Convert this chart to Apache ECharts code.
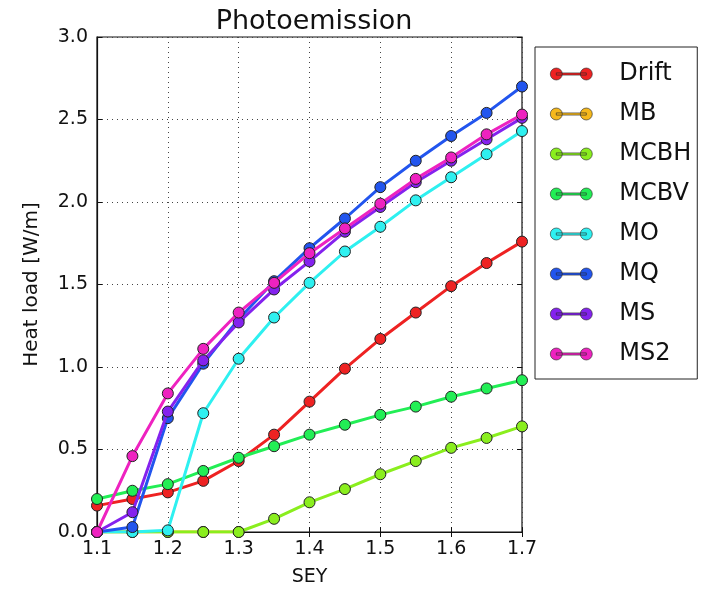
<!DOCTYPE html>
<html>
<head>
<meta charset="utf-8">
<script src="https://cdn.jsdelivr.net/npm/echarts@6/dist/echarts.min.js"></script>
<style>
	html, body { margin: 0; padding: 0; background: #fff; }
	#chart { width: 710px; height: 596px; }
</style>
</head>
<body>
<div id="chart"></div>
<script>
var sey = [1.1, 1.15, 1.2, 1.25, 1.3, 1.35, 1.4, 1.45, 1.5, 1.55, 1.6, 1.65, 1.7];
var names = ['Drift', 'MB', 'MCBH', 'MCBV', 'MO', 'MQ', 'MS', 'MS2'];
var colors = ['#ee2222', '#f5b81c', '#8aee1e', '#22ee55', '#2ef0f0', '#2255ee', '#8422ee', '#ee22c0'];
var drift = [0.16, 0.20, 0.24, 0.31, 0.43, 0.59, 0.79, 0.99, 1.17, 1.33, 1.49, 1.63, 1.76];
var mb = [0, 0, 0, 0, 0, null, null, null, null, null, null, null, null];
var mcbh = [0, 0, 0, 0, 0, 0.08, 0.18, 0.26, 0.35, 0.43, 0.51, 0.57, 0.64];
var mcbv = [0.20, 0.25, 0.29, 0.37, 0.45, 0.52, 0.59, 0.65, 0.71, 0.76, 0.82, 0.87, 0.92];
var mo = [0, 0, 0.01, 0.72, 1.05, 1.30, 1.51, 1.70, 1.85, 2.01, 2.15, 2.29, 2.43];
var mq = [0, 0.03, 0.69, 1.02, 1.29, 1.52, 1.72, 1.90, 2.09, 2.25, 2.40, 2.54, 2.70];
var ms = [0, 0.12, 0.73, 1.04, 1.27, 1.47, 1.64, 1.82, 1.97, 2.12, 2.25, 2.38, 2.51];
var ms2 = [0, 0.46, 0.84, 1.11, 1.33, 1.51, 1.69, 1.84, 1.99, 2.14, 2.27, 2.41, 2.53];
var values = [drift, mb, mcbh, mcbv, mo, mq, ms, ms2];

var font = 'DejaVu Sans';
// legend marker: line with a circle at each end
var legendIcon = 'path://M6,0 A6,6 0 1,1 6,12 A6,6 0 1,1 6,0 Z M36,0 A6,6 0 1,1 36,12 A6,6 0 1,1 36,0 Z M6,4.9 L36,4.9 L36,7.1 L6,7.1 Z';

function pairs(arr) {
	var out = [];
	for (var i = 0; i < sey.length; i++) {
		out.push([sey[i], arr[i]]);
	}
	return out;
}

var series = [];
for (var k = 0; k < names.length; k++) {
	series.push({
		name: names[k],
		type: 'line',
		xAxisIndex: 0,
		yAxisIndex: 0,
		data: pairs(values[k]),
		symbol: 'circle',
		symbolSize: 11,
		showAllSymbol: true,
		connectNulls: false,
		lineStyle: {color: colors[k], width: 3},
		itemStyle: {color: colors[k], borderColor: '#222', borderWidth: 1},
		emphasis: {disabled: true},
		z: 2 + k
	});
}

var myChart = echarts.init(document.getElementById('chart'));
var gridLine = {show: true, lineStyle: {color: '#444', width: 1, type: [1, 4]}};
var option = {
	animation: false,
	textStyle: {fontFamily: font},
	title: {
		text: 'Photoemission',
		left: 309,
		top: 3,
		textAlign: 'center',
		textStyle: {fontFamily: font, fontSize: 27, fontWeight: 'normal', color: '#111'}
	},
	grid: {
		left: 97, right: 188, top: 37, bottom: 64,
		show: true, borderColor: '#111', borderWidth: 1.2, backgroundColor: '#fff'
	},
	legend: {
		orient: 'vertical',
		left: 535,
		top: 47,
		padding: [15, 6, 13, 15],
		itemGap: 16,
		itemWidth: 42,
		itemHeight: 12,
		icon: legendIcon,
		itemStyle: {borderWidth: 0.6},
		backgroundColor: '#fff',
		borderColor: '#222',
		borderWidth: 1,
		borderRadius: 0,
		data: names,
		textStyle: {fontFamily: font, fontSize: 24, color: '#111', lineHeight: 20, padding: [0, 0, 0, 22]}
	},
	xAxis: [
		{
			type: 'value',
			min: 1.1, max: 1.7, interval: 0.1,
			name: 'SEY',
			nameLocation: 'middle',
			nameGap: 36,
			nameTextStyle: {fontFamily: font, fontSize: 19, color: '#111'},
			axisLine: {show: true, onZero: false, lineStyle: {color: '#111', width: 1.2}},
			axisTick: {show: true, inside: true, length: 5, lineStyle: {color: '#111'}},
			axisLabel: {fontFamily: font, fontSize: 19, color: '#111', margin: 8,
				formatter: function (v) { return v.toFixed(1); }},
			splitLine: gridLine
		},
		{
			type: 'value',
			position: 'top',
			min: 1.1, max: 1.7, interval: 0.1,
			axisLine: {show: false},
			axisTick: {show: true, inside: true, length: 5, lineStyle: {color: '#111'}},
			axisLabel: {show: false},
			splitLine: {show: false}
		}
	],
	yAxis: [
		{
			type: 'value',
			min: 0, max: 3.0, interval: 0.5,
			name: 'Heat load [W/m]',
			nameLocation: 'middle',
			nameGap: 55,
			nameTextStyle: {fontFamily: font, fontSize: 20, color: '#111'},
			axisLine: {show: true, lineStyle: {color: '#111', width: 1.2}},
			axisTick: {show: true, inside: true, length: 5, lineStyle: {color: '#111'}},
			axisLabel: {fontFamily: font, fontSize: 19, color: '#111', margin: 9,
				formatter: function (v) { return v.toFixed(1); }},
			splitLine: gridLine
		},
		{
			type: 'value',
			position: 'right',
			min: 0, max: 3.0, interval: 0.5,
			axisLine: {show: false},
			axisTick: {show: true, inside: true, length: 5, lineStyle: {color: '#111'}},
			axisLabel: {show: false},
			splitLine: {show: false}
		}
	],
	series: series
};
myChart.setOption(option, true);
</script>
</body>
</html>
